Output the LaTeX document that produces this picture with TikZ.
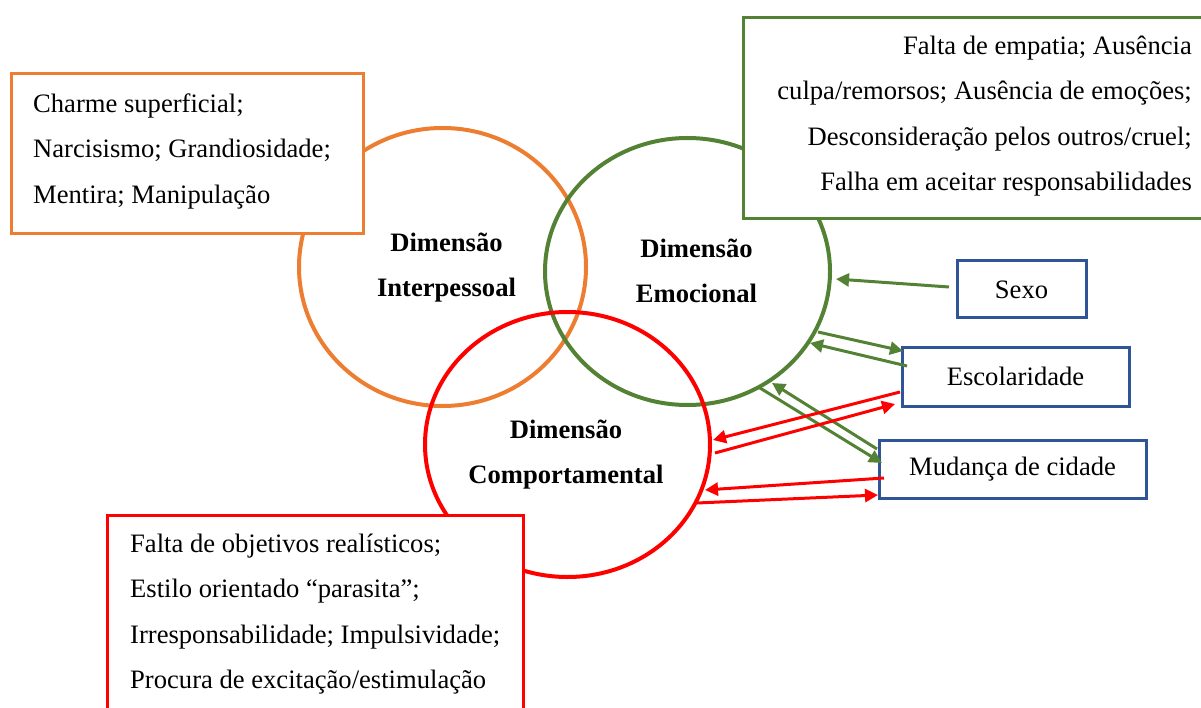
\documentclass[tikz,border=0pt]{standalone}
\usepackage{fontspec}
\setmainfont{Liberation Serif}
\usetikzlibrary{arrows.meta,calc,shapes.geometric}
\definecolor{cOrange}{HTML}{ED7D31}
\definecolor{cGreen}{HTML}{548235}
\definecolor{cRed}{HTML}{FF0000}
\definecolor{cBlue}{HTML}{2F5597}
\begin{document}
\begin{tikzpicture}[x=1pt,y=-1pt,
  dim/.style={ellipse, draw, line width=4pt, inner sep=0pt, outer sep=0pt},
  dimlabel/.style={font=\fontsize{26.6}{45}\selectfont\bfseries, align=center, inner sep=0pt, anchor=north},
  infobox/.style={rectangle, draw, fill=white, line width=3pt, inner sep=0pt, outer sep=0pt},
  boxtext/.style={font=\fontsize{26.6}{45.5}\selectfont, inner sep=0pt},
  factor/.style={rectangle, draw=cBlue, fill=white, line width=3pt, inner sep=0pt, outer sep=0pt, font=\fontsize{26.6}{30}\selectfont},
  link/.style={line width=3pt, -{Triangle[length=13pt,width=13pt]}},
]
\useasboundingbox (0,0) rectangle (1201,708);
\clip (0,0) rectangle (1201,708);

% circles
\node[dim, draw=cOrange, minimum width=287pt, minimum height=278pt] (inter) at (442.5,267) {};
\node[dim, draw=cGreen, minimum width=285pt, minimum height=267pt] (em) at (687.5,271.5) {};
\node[dim, draw=cRed, minimum width=285pt, minimum height=265pt] (comp) at (567.5,444.5) {};

% labels
\node[dimlabel] (linter) at (446.5,227.7) {\rule{0pt}{24pt}Dimensão\\Interpessoal};
\node[dimlabel] (lem) at (696.5,233.7) {\rule{0pt}{24pt}Dimensão\\Emocional};
\node[dimlabel] (lcomp) at (566,414) {\rule{0pt}{24pt}Dimensão\\Comportamental};

% description boxes
\node[infobox, draw=cOrange, minimum width=352pt, minimum height=160pt] (ibox) at (187,154) {};
\node[boxtext, anchor=north west, align=left] (itext) at (33,88)
  {\rule{0pt}{24pt}Charme superficial;\\Narcisismo; Grandiosidade;\\Mentira; Manipulação};

\node[infobox, draw=cGreen, minimum width=472pt, minimum height=201pt] (ebox) at (979,118.5) {};
\node[boxtext, anchor=north east, align=right] (etext) at (1192,30)
  {\rule{0pt}{24pt}Falta de empatia; Ausência\\culpa/remorsos; Ausência de emoções;\\Desconsideração pelos outros/cruel;\\Falha em aceitar responsabilidades};

\node[infobox, draw=cRed, minimum width=416pt, minimum height=205pt] (cbox) at (315,617.5) {};
\node[boxtext, anchor=north west, align=left] (ctext) at (130,528)
  {\rule{0pt}{24pt}Falta de objetivos realísticos;\\Estilo orientado “parasita”;\\Irresponsabilidade; Impulsividade;\\Procura de excitação/estimulação};

% factors
\node[factor, minimum width=129pt, minimum height=57pt] (sexo) at (1021.5,289.5) {Sexo};
\node[factor, minimum width=227pt, minimum height=59pt] (esc) at (1015.5,376.5) {Escolaridade};
\node[factor, minimum width=267pt, minimum height=58pt] (mud) at (1012.5,469) {Mudança de cidade};

% green connectors
\draw[link, cGreen] ($(sexo.west)+(-8,-2.5)$) -- ($(em.center)+(148.5,7.5)$);
\draw[link, cGreen] ($(em.center)+(130.5,60.5)$) -- ($(esc.north west)+(1,4)$);
\draw[link, cGreen] ($(esc.west)+(5,-10.5)$) -- ($(em.center)+(122.5,71.5)$);
\draw[link, cGreen] ($(em.center)+(72.5,116.5)$) -- ($(mud.west)+(3,-6)$);
\draw[link, cGreen] ($(mud.west)+(-2,-20)$) -- ($(em.center)+(84.5,111.5)$);

% red connectors
\draw[link, cRed] ($(esc.west)+(-2,15.5)$) -- ($(comp.center)+(145.5,-4.5)$);
\draw[link, cRed] ($(comp.center)+(147.5,8.5)$) -- ($(esc.south west)+(-7,-2)$);
\draw[link, cRed] ($(mud.west)+(5,9)$) -- ($(comp.center)+(137.5,45.5)$);
\draw[link, cRed] ($(comp.center)+(129.5,58.5)$) -- ($(mud.west)+(-1,26)$);
\end{tikzpicture}
\end{document}
